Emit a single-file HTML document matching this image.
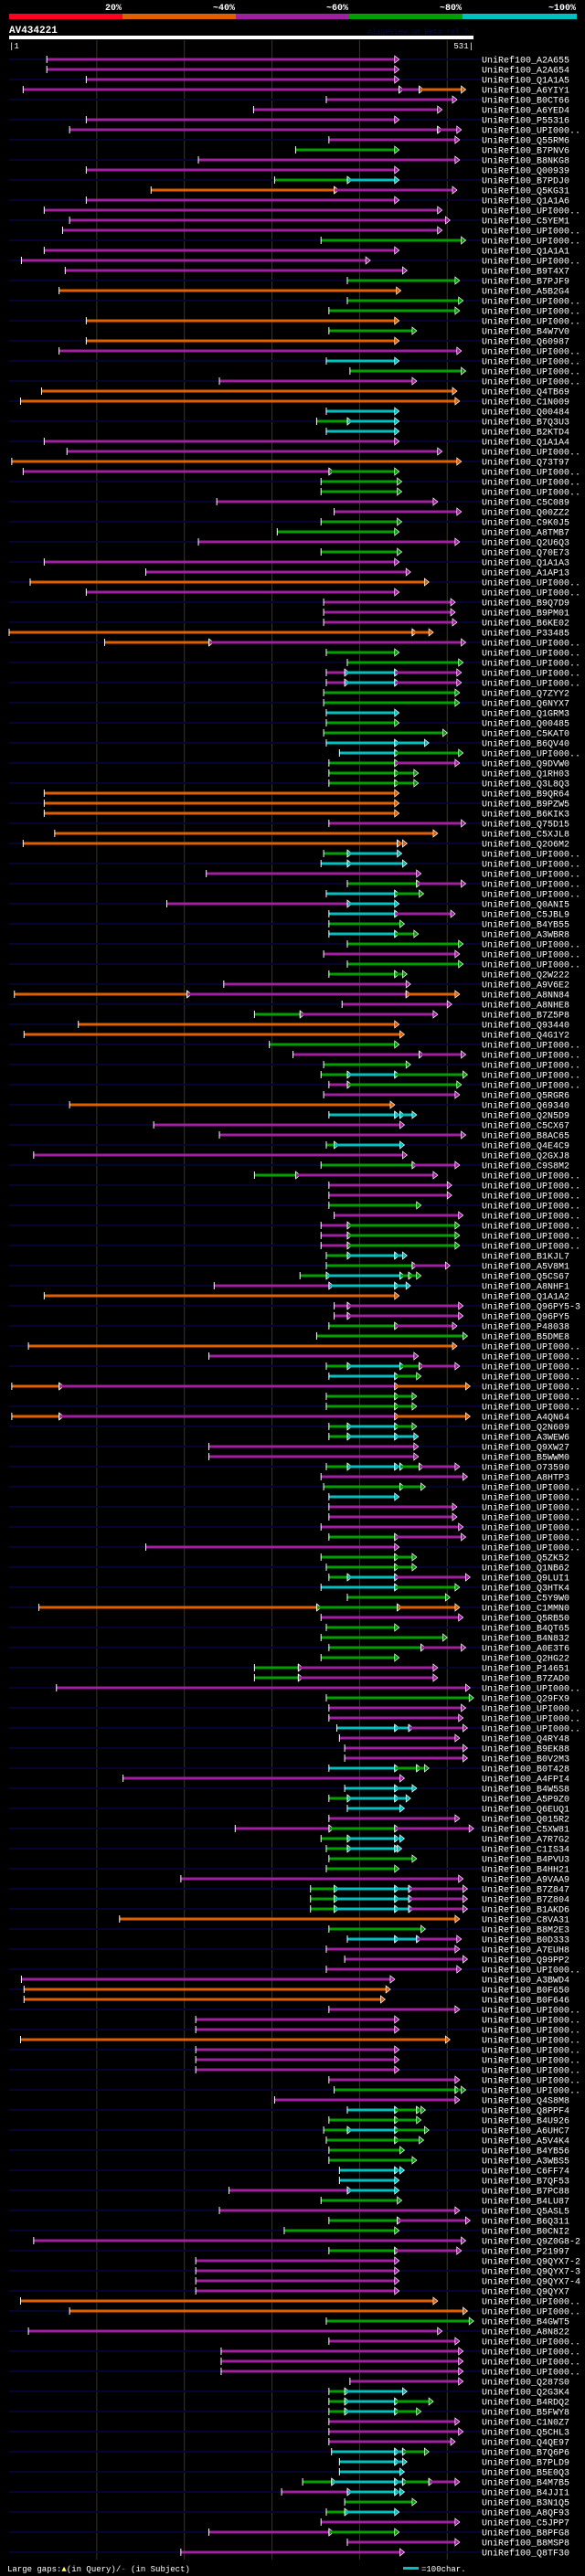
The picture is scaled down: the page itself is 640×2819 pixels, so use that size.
<!DOCTYPE html>
<html><head><meta charset="utf-8">
<style>
html,body{margin:0;padding:0;background:#000;}
svg{display:block;}
text{font-family:"Liberation Mono","DejaVu Sans Mono",monospace;}
</style></head>
<body>
<svg id="chart" width="640" height="2819" viewBox="0 0 640 2819" xmlns="http://www.w3.org/2000/svg">
<rect x="0" y="0" width="640" height="2819" fill="#000"/>
<g>
<rect x="10" y="15" width="124" height="6" fill="#ff0020"/>
<rect x="134" y="15" width="124" height="6" fill="#e06000"/>
<rect x="258" y="15" width="124" height="6" fill="#a020a0"/>
<rect x="382" y="15" width="124" height="6" fill="#00a000"/>
<rect x="506" y="15" width="125" height="6" fill="#00c0c0"/>
<text x="133" y="11" fill="#fff" font-size="10" font-weight="bold" text-anchor="end">20%</text>
<text x="257" y="11" fill="#fff" font-size="10" font-weight="bold" text-anchor="end">~40%</text>
<text x="381" y="11" fill="#fff" font-size="10" font-weight="bold" text-anchor="end">~60%</text>
<text x="505" y="11" fill="#fff" font-size="10" font-weight="bold" text-anchor="end">~80%</text>
<text x="630" y="11" fill="#fff" font-size="10" font-weight="bold" text-anchor="end">~100%</text>
</g>
<text x="10" y="36" fill="#fff" font-size="11" font-weight="bold">AV434221</text>
<text x="402" y="37" fill="#0a0a48" font-size="8">AlignView.pm Beta rel.7</text>
<rect x="10" y="39" width="508" height="4" fill="#fff"/>
<text x="10" y="53" fill="#fff" font-size="9">|1</text>
<text x="518" y="53" fill="#fff" font-size="9" text-anchor="end">531|</text>
<g id="grid"></g>
<g id="rows"></g>
<g>
<text x="8" y="2814" fill="#fff" font-size="9">Large gaps:<tspan fill="#ffff66">▲</tspan>(in Query)/<tspan fill="#00c0c0">-</tspan> (in Subject)</text>
<rect x="441" y="2809" width="17" height="3" fill="#00c0c0"/>
<text x="461" y="2814" fill="#fff" font-size="9">=100char.</text>
</g>
</svg>
<script>
const queryLength = 531;
const gridTicks = [100, 200, 300, 400, 500];
const labelSuffix = ["A2A655","A2A654","Q1A1A5","A6YIY1","B0CT66","A6YED4","P55316","UPI000..","Q55RM6","B7PNV6","B8NKG8","Q00939","B7PDJ0","Q5KG31","Q1A1A6","UPI000..","C5YEM1","UPI000..","UPI000..","Q1A1A1","UPI000..","B9T4X7","B7PJF9","A5B2G4","UPI000..","UPI000..","UPI000..","B4W7V0",
"Q60987","UPI000..","UPI000..","UPI000..","UPI000..","Q4TB69","C1N009","Q00484","B7Q3U3","B2KTD4","Q1A1A4","UPI000..","Q73T97","UPI000..","UPI000..","UPI000..","C5C089","Q00ZZ2","C9K0J5","A8TMB7","Q2U6Q3","Q70E73","Q1A1A3","A1AP13","UPI000..","UPI000..","B9Q7D9",
"B9PM01","B6KE02","P33485","UPI000..","UPI000..","UPI000..","UPI000..","UPI000..","Q7ZYY2","Q6NYX7","Q1GRM3","Q00485","C5KAT0","B6QV40","UPI000..","Q9DVW0","Q1RH03","Q3L8Q3","B9QR64","B9PZW5","B6KIK3","Q75D15","C5XJL8","Q2O6M2","UPI000..","UPI000..","UPI000..","UPI000..",
"UPI000..","Q0ANI5","C5JBL9","B4YB55","A3WBR8","UPI000..","UPI000..","UPI000..","Q2W222","A9V6E2","A8NN84","A8NHE8","B7Z5P8","Q93440","Q4G1Y2","UPI000..","UPI000..","UPI000..","UPI000..","UPI000..","Q5RGR6","Q69340","Q2N5D9","C5CX67","B8AC65","Q4E4C9","Q2GXJ8",
"C9S8M2","UPI000..","UPI000..","UPI000..","UPI000..","UPI000..","UPI000..","UPI000..","UPI000..","B1KJL7","A5V8M1","Q5CS67","A8NHF1","Q1A1A2","Q96PY5-3","Q96PY5","P48038","B5DME8","UPI000..","UPI000..","UPI000..","UPI000..","UPI000..","UPI000..","UPI000..","A4QN64","Q2N609",
"A3WEW6","Q9XW27","B5WWM0","O73590","A8HTP3","UPI000..","UPI000..","UPI000..","UPI000..","UPI000..","UPI000..","UPI000..","Q5ZK52","Q1NB62","Q9LUI1","Q3HTK4","C5Y9W0","C1MMN0","Q5RB50","B4QT65","B4N832","A0E3T6","Q2HG22","P14651","B7ZAD0","UPI000..","Q29FX9",
"UPI000..","UPI000..","UPI000..","Q4RY48","B9EK88","B0V2M3","B0T428","A4FPI4","B4W5S8","A5P9Z0","Q6EUQ1","Q015R2","C5XW81","A7R7G2","C1IS34","B4PVU3","B4HH21","A9VAA9","B7Z847","B7Z804","B1AKD6","C8VA31","B8M2E3","B0D333","A7EUH8","Q99PP2",
"UPI000..","A3BWD4","B0F650","B0F646","UPI000..","UPI000..","UPI000..","UPI000..","UPI000..","UPI000..","UPI000..","UPI000..","UPI000..","Q4S8M8","Q8PPF4","B4U926","A6UHC7","A5V4K4","B4YB56","A3WBS5","C6FF74","B7QF53","B7PC88","B4LU87","Q5ASL5","B6Q311","B0CNI2",
"Q9Z0G8-2","P21997","Q9QYX7-2","Q9QYX7-3","Q9QYX7-4","Q9QYX7","UPI000..","UPI000..","B4GWT5","A8N822","UPI000..","UPI000..","UPI000..","UPI000..","Q287S0","Q2G3K4","B4RDQ2","B5FWY8","C1N0Z7","Q5CHL3","Q4QE97","B7Q6P6","B7PLD9","B5E0Q3","B4M7B5","B4JJI1","B3N1Q5",
"A8QF93","C5JPP7","B8PFG8","B8MSP8","Q8TF30"];
const segmentSpecs = ["43-440m","43-440m","88-440m","16-445m,445-468m,468-516o","362-506m","279-489m","88-440m","69-489m,489-511m","365-509m","327-440g","216-509m","88-440m","303-386g,386-440c","162-371o,371-506m","88-440m","40-489m","69-498m","61-489m","356-516g","40-440m","14-407m","64-449m","386-509g","57-442o","386-513g","365-509g","88-440o","365-460g",
"88-440o","57-511m","362-440c","389-516g","240-460m","37-506o","13-509o","362-440c","351-386g,386-440c","362-440c","40-440m","66-489m","3-511o","16-365m,365-440g","356-443g","356-443g","237-484m","371-511m","356-443g","306-440g","216-509m","356-443g","40-440m","156-453m","24-474o","88-440m","359-504m",
"359-504m","359-506m","0-460o,460-479o","109-228o,228-516m","362-440g","386-513g","362-383m,383-440c,440-511m","362-383m,383-440c,440-511m","359-509g","359-509g","362-440c","362-440g","359-495g","362-440c,440-474c","377-440c,440-513g","365-440g,440-509m","365-440g,440-462g","365-440g,440-462g","40-440o","40-440o","40-440o","365-516m","52-484o","16-443o,443-449o","359-386g,386-443c","356-386c,386-449c","225-465m","386-465g,465-516m",
"362-440c,440-468g","180-386m,386-440c","365-440c,440-504m","365-446g","365-440c,440-462g","386-513g","359-509m","386-513g","365-440g,440-449g","245-453m","6-203o,203-453m,453-509o","380-500m","280-332g,332-484m","79-440o","17-446o","297-440g","324-468m,468-516m","359-453g","356-386g,386-440c,440-518g","365-386m,386-511g","359-509m","69-435o","365-440c,440-446c,446-460c","165-446m","240-516m","362-371g,371-446c","28-449m",
"356-460g,460-509m","280-327g,327-484m","365-500m","365-500m","365-465g","371-513m","356-386m,386-509g","356-386m,386-509g","356-386m,386-509g","362-386g,386-440c,440-449c","362-460g,460-498m","332-362g,362-446c,446-456g,456-465g","234-365m,365-440c,440-453c","40-440o","371-386m,386-513m","371-386m,386-513m","365-440g,440-506m","351-518g","22-506o","228-462m","362-386g,386-446c,446-468g,468-509m","365-440c,440-465g","3-57o,57-440m,440-521o","362-440g,440-460g","362-440g,440-460g","3-57o,57-440m,440-521o","365-386g,386-440c,440-460g",
"365-386g,386-440c,440-462c","228-462m","228-462m","362-386g,386-440c,440-446c,446-468g,468-509m","356-518m","359-446g,446-470g","365-440c","365-506m","365-506m","356-513m","365-440g,440-516m","156-440m","356-440g,440-460g","362-440g,440-460g","365-386g,386-440c,440-521m","356-440c,440-509g","386-498g","34-351o,351-443g,443-509o","356-513m","362-440g","356-495g","365-470g,470-516m","356-440g","280-330g,330-484m","280-330g,330-484m","54-521m","362-525g",
"365-516m","365-513m","374-440c,440-456c,456-518m","377-509m","383-518m","383-518m","365-440c,440-465g,465-474g","130-446m","383-440c,440-460c","365-386g,386-440c,440-453c","386-446c","365-509m","258-365m,365-440g,440-525m","356-386g,386-440c,440-446c","362-386g,386-440c,440-443c","365-460g","362-440g","196-513m","344-371g,371-440c,440-456c,456-518m","344-371g,371-440c,440-456c,456-518m","344-371g,371-440c,440-456c,456-518m","126-509o","365-470g","386-440c,440-465c,465-511m","362-509m","383-518m",
"362-511m","14-435m","17-430o","17-424o","365-509m","213-440m","213-440m","13-498o","213-440m","213-440m","213-440m","365-509m","371-509g,509-516g","303-509m","386-440c,440-465g,465-470g","365-440g,440-465g","359-386g,386-440c,440-474g","362-440g,440-468g","365-446g","365-460g","377-440c,440-446c","377-440c","251-386m,386-440c","356-443g","240-509m","365-443g,443-521m","314-440g",
"28-516m","365-440g,440-511m","213-440m","213-440m","213-440m","213-440m","13-484o","69-518o","362-525g","22-489m","365-509m","242-513m","242-513m","242-513m","389-513m","365-383g,383-449c","365-383g,383-440c,440-479g","365-383g,383-440c,440-465g","365-509m","365-513m","365-504m","368-440c,440-449c,449-474g","377-440c,440-449c","377-446c","335-368g,368-440c,440-449c,449-479g,479-509m","311-386m,386-440c,440-446c","383-460g",
"362-383g,383-440c","356-509m","228-365m,365-440g","386-509m","196-446m"];

const NS = "http://www.w3.org/2000/svg";
const COLORS = {m:"#a020a0", o:"#e06000", g:"#00a000", c:"#00c0c0", r:"#ff0020"};
const X0 = 10, X1 = 518, ROW0 = 65, ROWH = 11;
function xScale(p){ return X0 + p * (X1 - X0) / (queryLength - 1); }
function yScale(i){ return ROW0 + i * ROWH; }
function mk(tag, attrs){ const e = document.createElementNS(NS, tag); for (const k in attrs) e.setAttribute(k, attrs[k]); return e; }

const grid = document.getElementById('grid');
const lastY = yScale(labelSuffix.length - 1) + 8;
gridTicks.forEach(function(t){
  const l = mk('line', {x1:xScale(t), x2:xScale(t), y1:44, y2:lastY, stroke:'#3a3a12', 'stroke-width':1});
  
  
  grid.appendChild(l);
});

const rowsG = document.getElementById('rows');
labelSuffix.forEach(function(suf, i){
  const y = yScale(i);
  const g = mk('g', {});
  
  
  if (i % 2 === 0) {
    const bg = mk('line', {x1:10, x2:527, y1:y, y2:y, stroke:'#05052e', 'stroke-width':2});
    
    
    g.appendChild(bg);
  }
  const segs = (segmentSpecs[i] || '').split(',').filter(Boolean);
  segs.forEach(function(s){
    const m = s.match(/(\d+)-(\d+)([a-z])/);
    if (!m) return;
    const a = +m[1], b = +m[2], col = COLORS[m[3]];
    const xa = xScale(a), xb = xScale(b);
    const bar = mk('rect', {x:xa, y:y-1.5, width:Math.max(0, xb-xa), height:3, fill:col});
    
    
    g.appendChild(bar);
    const tick = mk('line', {x1:xa, x2:xa, y1:y-4, y2:y+4, stroke:'#fff', 'stroke-width':1});
    
    
    g.appendChild(tick);
    const arr = mk('polygon', {points:(xb)+','+(y-4)+' '+(xb+5)+','+y+' '+(xb)+','+(y+4), fill:col, stroke:'#fff', 'stroke-width':0.7});
    
    
    g.appendChild(arr);
  });
  const t = mk('text', {x:527, y:y+3.5, fill:'#fff', 'font-size':10});
  t.textContent = 'UniRef100_' + suf;
  
  
  g.appendChild(t);
  rowsG.appendChild(g);
});
</script>
</body></html>
